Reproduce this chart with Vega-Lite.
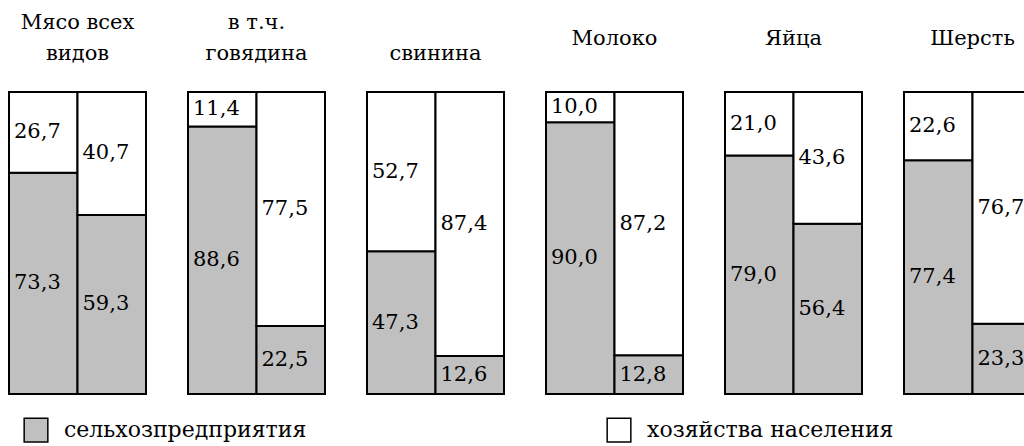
{
  "$schema": "https://vega.github.io/schema/vega-lite/v6.json",
  "padding": {"left": 8, "top": 12, "right": 0, "bottom": 0},
  "config": {
    "view": {"stroke": null},
    "font": "DejaVu Serif",
    "locale": {"number": {"decimal": ",", "thousands": " ", "grouping": [3], "currency": ["", ""]}}
  },
  "data": {"values": [
    {"group": "Мясо всех видов", "bar": "1", "cat": "сельхозпредприятия", "value": 73.3},
    {"group": "Мясо всех видов", "bar": "1", "cat": "хозяйства населения", "value": 26.7},
    {"group": "Мясо всех видов", "bar": "2", "cat": "сельхозпредприятия", "value": 59.3},
    {"group": "Мясо всех видов", "bar": "2", "cat": "хозяйства населения", "value": 40.7},
    {"group": "в т.ч. говядина", "bar": "1", "cat": "сельхозпредприятия", "value": 88.6},
    {"group": "в т.ч. говядина", "bar": "1", "cat": "хозяйства населения", "value": 11.4},
    {"group": "в т.ч. говядина", "bar": "2", "cat": "сельхозпредприятия", "value": 22.5},
    {"group": "в т.ч. говядина", "bar": "2", "cat": "хозяйства населения", "value": 77.5},
    {"group": "свинина", "bar": "1", "cat": "сельхозпредприятия", "value": 47.3},
    {"group": "свинина", "bar": "1", "cat": "хозяйства населения", "value": 52.7},
    {"group": "свинина", "bar": "2", "cat": "сельхозпредприятия", "value": 12.6},
    {"group": "свинина", "bar": "2", "cat": "хозяйства населения", "value": 87.4},
    {"group": "Молоко", "bar": "1", "cat": "сельхозпредприятия", "value": 90.0},
    {"group": "Молоко", "bar": "1", "cat": "хозяйства населения", "value": 10.0},
    {"group": "Молоко", "bar": "2", "cat": "сельхозпредприятия", "value": 12.8},
    {"group": "Молоко", "bar": "2", "cat": "хозяйства населения", "value": 87.2},
    {"group": "Яйца", "bar": "1", "cat": "сельхозпредприятия", "value": 79.0},
    {"group": "Яйца", "bar": "1", "cat": "хозяйства населения", "value": 21.0},
    {"group": "Яйца", "bar": "2", "cat": "сельхозпредприятия", "value": 56.4},
    {"group": "Яйца", "bar": "2", "cat": "хозяйства населения", "value": 43.6},
    {"group": "Шерсть", "bar": "1", "cat": "сельхозпредприятия", "value": 77.4},
    {"group": "Шерсть", "bar": "1", "cat": "хозяйства населения", "value": 22.6},
    {"group": "Шерсть", "bar": "2", "cat": "сельхозпредприятия", "value": 23.3},
    {"group": "Шерсть", "bar": "2", "cat": "хозяйства населения", "value": 76.7}
  ]},
  "transform": [
    {"stack": "value", "groupby": ["group", "bar"], "sort": [{"field": "cat", "order": "ascending"}], "as": ["v0", "v1"]},
    {"calculate": "(datum.v0 + datum.v1) / 2", "as": "mid"}
  ],
  "facet": {
    "column": {
      "field": "group", "type": "nominal",
      "sort": ["Мясо всех видов", "в т.ч. говядина", "свинина", "Молоко", "Яйца", "Шерсть"],
      "header": {
        "title": null,
        "labelFont": "DejaVu Serif",
        "labelFontSize": 21,
        "labelColor": "black",
        "labelBaseline": "bottom",
        "labelLineHeight": 15.5,
        "labelPadding": 6,
        "labelExpr": "datum.value == 'Мясо всех видов' ? ['Мясо всех', '\u2800', 'видов'] : datum.value == 'в т.ч. говядина' ? ['в т.ч.', '\u2800', 'говядина'] : datum.value == 'свинина' ? 'свинина' : [datum.value, '']"
      }
    }
  },
  "spacing": 40,
  "spec": {
    "width": 137,
    "height": 302,
    "layer": [
      {
        "mark": {"type": "bar", "stroke": "black", "strokeWidth": 2},
        "encoding": {
          "x": {"field": "bar", "type": "nominal", "axis": null, "scale": {"paddingInner": 0, "paddingOuter": 0}},
          "y": {"field": "v0", "type": "quantitative", "axis": null, "scale": {"domain": [0, 100], "nice": false}},
          "y2": {"field": "v1"},
          "color": {
            "field": "cat", "type": "nominal",
            "scale": {"domain": ["сельхозпредприятия", "хозяйства населения"], "range": ["#c0c0c0", "#ffffff"]},
            "legend": {
              "orient": "bottom", "offset": 8, "padding": 14, "direction": "horizontal", "title": null,
              "symbolType": "square", "symbolSize": 560, "symbolStrokeColor": "black", "symbolStrokeWidth": 1.5,
              "symbolOpacity": 1,
              "labelFont": "DejaVu Serif", "labelFontSize": 22, "labelColor": "black",
              "columnPadding": 297, "labelLimit": 400, "labelOffset": 15
            }
          }
        }
      },
      {
        "mark": {"type": "text", "align": "left", "dx": 5, "baseline": "middle", "fontSize": 21, "font": "DejaVu Serif", "color": "black"},
        "encoding": {
          "x": {"field": "bar", "type": "nominal", "bandPosition": 0},
          "y": {"field": "mid", "type": "quantitative"},
          "text": {"field": "value", "type": "quantitative", "format": ".1f"}
        }
      }
    ]
  }
}
